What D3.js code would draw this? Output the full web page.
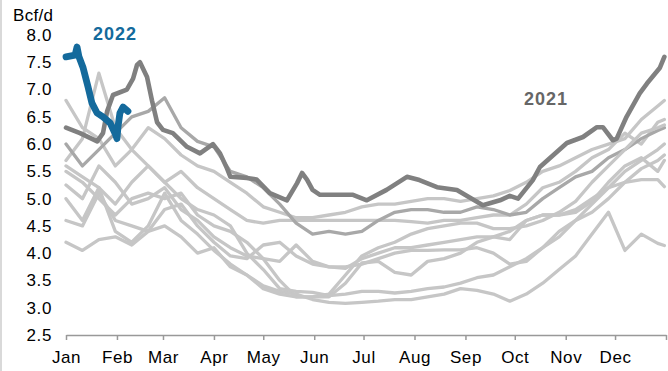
<!DOCTYPE html>
<html><head><meta charset="utf-8">
<script src="https://cdn.jsdelivr.net/npm/d3@7"></script>
<style>
html,body{margin:0;padding:0;background:#fff;}
svg{display:block;font-family:"Liberation Sans",Arial,sans-serif;}
</style></head>
<body><svg id="c" width="668" height="371"></svg>
<script>
// ---- data ----
const monthLabels = ["Jan","Feb","Mar","Apr","May","Jun","Jul","Aug","Sep","Oct","Nov","Dec"];
const monthStartDays = [0,31,59,90,120,151,181,212,243,273,304,334];
const yTicks = [2.5,3.0,3.5,4.0,4.5,5.0,5.5,6.0,6.5,7.0,7.5,8.0];

// shared day grid for the historical (light gray) years
const gridDays = [0,10,20,30,40,50,60,70,80,90,100,110,120,130,140,150,160,170,180,190,200,210,220,230,240,250,260,270,280,290,300,310,320,330,340,350,360,364];

const hist1 = [6.8,6.3,6.1,5.6,5.9,6.3,6.1,5.8,5.6,5.5,5.3,5.1,4.85,4.75,4.65,4.65,4.7,4.75,4.85,4.9,4.9,4.95,5.0,5.0,4.95,5.0,5.05,5.15,5.3,5.5,5.6,5.75,5.9,6.0,6.1,6.45,6.7,6.8];
const hist2 = [5.7,6.1,7.3,6.3,5.9,5.6,5.3,5.5,5.2,5.0,4.8,4.6,4.55,4.6,4.6,4.6,4.6,4.6,4.6,4.6,4.6,4.58,4.55,4.6,4.6,4.65,4.7,4.7,4.9,5.2,5.3,5.5,5.75,5.9,6.2,6.0,6.4,6.45];
const hist3 = [6.0,5.6,5.9,6.2,6.5,6.6,6.85,6.3,6.05,5.95,5.5,5.4,5.2,4.9,4.55,4.35,4.4,4.35,4.4,4.6,4.75,4.8,4.8,4.75,4.75,4.85,4.8,4.7,4.75,5.0,5.2,5.4,5.5,5.75,5.9,6.1,6.25,6.3];
const hist4 = [5.25,5.0,5.6,5.3,4.9,5.0,5.2,4.8,4.6,4.3,4.1,3.95,3.9,3.85,4.15,3.85,3.75,3.72,3.9,4.0,4.1,4.1,4.15,4.2,4.25,4.3,4.3,4.4,4.6,4.7,4.7,4.75,4.95,5.3,5.6,5.75,5.5,5.7];
const hist5 = [5.5,5.3,5.0,4.7,5.0,5.1,5.0,5.1,4.7,4.5,4.4,4.2,3.9,3.5,3.2,3.2,3.2,3.45,3.82,3.85,3.65,3.6,3.85,3.9,4.0,4.2,4.3,4.25,4.6,4.7,4.7,4.8,5.0,5.2,5.3,5.35,5.35,5.22];
const hist6 = [4.6,4.5,5.1,4.6,4.5,4.4,4.8,4.9,4.5,4.2,3.95,3.9,4.15,4.2,3.95,3.8,3.75,3.75,3.8,3.9,4.0,4.05,4.05,4.06,4.06,4.1,4.0,3.8,3.85,4.1,4.4,4.6,4.75,5.0,5.3,5.55,5.7,5.8];
const hist7 = [4.2,4.05,4.25,4.3,4.15,4.4,4.5,4.3,4.0,4.1,3.75,3.6,3.4,3.3,3.25,3.15,3.1,3.08,3.1,3.12,3.15,3.15,3.2,3.25,3.35,3.32,3.25,3.12,3.25,3.45,3.7,3.95,4.35,4.75,4.05,4.35,4.18,4.14];
const hist8 = [5.0,4.6,5.2,4.4,4.2,4.5,5.1,4.6,4.35,4.05,3.8,3.6,3.35,3.25,3.2,3.2,3.25,3.6,3.95,4.1,4.2,4.35,4.45,4.5,4.55,4.55,4.45,4.45,4.5,4.6,4.75,4.95,5.3,5.6,5.9,6.2,6.3,6.35];
const hist9 = [5.6,5.4,5.2,4.9,5.3,5.6,5.3,5.0,4.8,4.7,4.5,4.0,3.7,3.35,3.3,3.28,3.22,3.25,3.3,3.3,3.27,3.3,3.35,3.38,3.45,3.55,3.6,3.75,3.9,4.1,4.3,4.6,4.9,5.2,5.5,5.7,5.9,6.0];

const days2021 = [0,8.5,19,22.5,25,28.6,37,40.8,43.2,45,49.3,52.3,55.4,59,65,73.6,81.5,89.4,93.7,98,100,110,116,124,134.4,140.5,143.6,146.6,150,154.5,174.6,183,195,207.4,215,225.7,237.8,253.6,264,270,275,284,288.3,304.7,314.5,323,326.6,332.7,335,341,349,353.4,361.3,364];
const vals2021 = [6.3,6.2,6.05,6.2,6.6,6.9,7.0,7.2,7.45,7.5,7.23,6.8,6.4,6.26,6.2,5.95,5.83,6.0,5.83,5.55,5.4,5.38,5.35,5.1,4.97,5.28,5.47,5.35,5.16,5.07,5.07,4.97,5.16,5.4,5.34,5.21,5.16,4.88,4.97,5.05,5.0,5.34,5.58,6.02,6.13,6.31,6.31,6.07,6.1,6.5,6.93,7.11,7.4,7.6];

const days2022 = [0,5.5,6.7,7.9,10.3,13.4,15.8,18.9,22.5,26.8,29.8,31,31.6,32.8,34.7,37.7];
const vals2022 = [7.6,7.63,7.78,7.6,7.41,7.05,6.75,6.57,6.5,6.39,6.2,6.1,6.31,6.57,6.68,6.6];

const histSeries = [hist1,hist2,hist3,hist4,hist5,hist6,hist7,hist8,hist9];
const histColors = ["#c6c6c6","#c6c6c6","#a8a8a8","#c6c6c6","#c6c6c6","#c6c6c6","#c6c6c6","#c6c6c6","#c6c6c6"];

// ---- chart ----
const svg = d3.select("#c");
svg.append("rect").attr("x",0).attr("y",0).attr("width",2).attr("height",371).attr("fill","#d9d9d9");

const x = d3.scaleLinear().domain([0,365]).range([66,666]);
const y = d3.scaleLinear().domain([2.5,8.0]).range([335,35]);

const line = d3.line().x(d=>x(d[0])).y(d=>y(d[1])).curve(d3.curveLinear);

const g = svg.append("g");
histSeries.forEach((s,i)=>{
  g.append("path").datum(gridDays.map((d,j)=>[d,s[j]]))
   .attr("d",line).attr("fill","none").attr("stroke",histColors[i])
   .attr("stroke-width",3.3).attr("stroke-linejoin","round").attr("stroke-linecap","round");
});
g.append("path").datum(days2021.map((d,j)=>[d,vals2021[j]]))
 .attr("d",line).attr("fill","none").attr("stroke","#808080")
 .attr("stroke-width",4.6).attr("stroke-linejoin","round").attr("stroke-linecap","round");
g.append("path").datum(days2022.map((d,j)=>[d,vals2022[j]]))
 .attr("d",line).attr("fill","none").attr("stroke","#146a9c")
 .attr("stroke-width",6.8).attr("stroke-linejoin","round").attr("stroke-linecap","round");

// y axis
const yAxis = svg.append("g").attr("transform","translate(55,0)")
  .call(d3.axisLeft(y).tickValues(yTicks).tickFormat(d3.format(".1f")).tickSize(0).tickPadding(3));
yAxis.select(".domain").remove();
yAxis.selectAll("text").attr("font-size",17).attr("fill","#000")
  .attr("font-family","Liberation Sans, Arial, sans-serif").style("letter-spacing","0.6px");

// x axis
const xAxis = svg.append("g").attr("transform","translate(0,335)")
  .call(d3.axisBottom(x).tickValues(monthStartDays.concat([365])).tickFormat((d,i)=> i<12?monthLabels[i]:"").tickSize(5).tickSizeOuter(0).tickPadding(11));
xAxis.select(".domain").attr("stroke","#999").attr("stroke-width",1.5);
xAxis.selectAll(".tick line").attr("stroke","#999").attr("stroke-width",1.5);
xAxis.selectAll("text").attr("font-size",17).attr("fill","#000")
  .attr("font-family","Liberation Sans, Arial, sans-serif").style("letter-spacing","0.6px");

// labels
svg.append("text").attr("x",13).attr("y",21).attr("font-size",17).attr("fill","#000").style("letter-spacing","0.3px").text("Bcf/d");
svg.append("text").attr("x",93).attr("y",40).attr("font-size",18).attr("font-weight","bold").attr("fill","#146a9c").style("letter-spacing","1px").text("2022");
svg.append("text").attr("x",524).attr("y",105).attr("font-size",18).attr("font-weight","bold").attr("fill","#666").style("letter-spacing","1px").text("2021");
</script></body></html>
